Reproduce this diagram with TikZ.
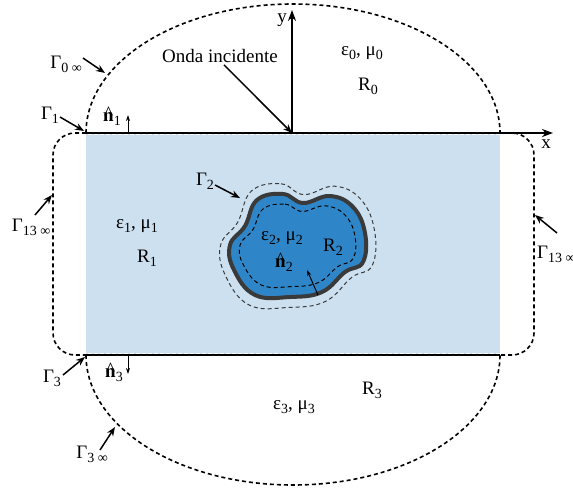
\documentclass[tikz,border=0pt]{standalone}
\usepackage{fontspec}
\setmainfont{Liberation Serif}
\usetikzlibrary{arrows.meta}
\definecolor{slabblue}{HTML}{CCE0EF}
\definecolor{scatblue}{HTML}{2E86C8}
\definecolor{scatedge}{HTML}{3A3A3A}
% outline of the scatterer R2
\newcommand{\scatcurve}{plot[smooth cycle, tension=0.7] coordinates {(257,200) (283,194) (303,203) (330,196) (353,207) (365,233) (363,262) (345,272) (322,292) (290,297) (255,295) (234,270) (230,245) (245,226)}}
% lowered index and unit normal
\newcommand{\lowidx}[1]{\raisebox{-0.45ex}{\fontsize{14}{14}\selectfont #1}}
\newcommand{\unitn}{\ooalign{\textbf{n}\cr\hidewidth\raisebox{0.1em}{\^{}}\hidewidth\cr}}
\tikzset{
  lbl/.style={font=\fontsize{19}{22}\selectfont, inner sep=0pt},
  pointer/.style={-{Stealth[length=9pt,width=7pt]}, line width=1.5pt},
  normal/.style={-{Stealth[length=6pt,width=4pt]}, line width=1pt},
  bound/.style={dash pattern=on 4pt off 3pt, line width=1.6pt},
}

\begin{document}
\begin{tikzpicture}[x=1pt, y=-1pt]
  \useasboundingbox (0,0) rectangle (573,493);

  % slab R1
  \fill[slabblue] (86,133) rectangle (500,355);

  % scatterer R2 with its two contours
  \fill[scatblue] \scatcurve;
  \draw[scatedge, line width=4pt] \scatcurve;
  \begin{scope}[shift={(297,245)}, xscale=1.14, yscale=1.2, shift={(-297,-245)}]
    \draw[dash pattern=on 4pt off 3pt, line width=1pt, scatedge] \scatcurve;
  \end{scope}
  \begin{scope}[shift={(297,245)}, xscale=0.85, yscale=0.8, shift={(-297,-245)}]
    \draw[dash pattern=on 4pt off 3pt, line width=1pt, black] \scatcurve;
  \end{scope}

  % contours at infinity
  \draw[bound] (86,133) arc[start angle=180, end angle=360, x radius=207, y radius=129];
  \draw[bound] (86,355) arc[start angle=180, end angle=0, x radius=207, y radius=130];
  \draw[bound, rounded corners=22pt] (86,133) -- (53,133) -- (53,355) -- (86,355);
  \draw[bound, rounded corners=22pt] (500,133) -- (534,133) -- (534,355) -- (500,355);

  % interfaces and axes
  \coordinate (orig) at (292,133);
  \coordinate (xend) at (553,133);
  \coordinate (yend) at (292,10);
  \draw[line width=2pt] (86,133) -- (500,133);
  \draw[-{Stealth[length=11pt,width=8pt]}, line width=2pt] (orig) -- (xend);
  \draw[-{Stealth[length=11pt,width=8pt]}, line width=2pt] (orig) -- (yend);
  \draw[white, dash pattern=on 4pt off 2pt, line width=0.8pt] (88,134.5) -- (500,134.5);
  \draw[line width=2pt] (86,355) -- (500,355);
  \draw[white, dash pattern=on 4pt off 2pt, line width=0.8pt] (88,353.5) -- (500,353.5);
  \node[lbl] (xlab) at (546,144) {x};
  \node[lbl] (ylab) at (282,20) {y};

  % incident wave
  \node[lbl] (onda) at (220,56) {Onda incidente};
  \draw[pointer] (onda.south) ++(4,2) coordinate (ondafoot) -- (orig);

  % region labels
  \node[lbl] (mat0) at (362,53) {ε\lowidx{0}, μ\lowidx{0}};
  \node[lbl] (reg0) at (368,86) {R\lowidx{0}};
  \node[lbl] (mat1) at (137,226) {ε\lowidx{1}, μ\lowidx{1}};
  \node[lbl] (reg1) at (147,258) {R\lowidx{1}};
  \node[lbl] (mat2) at (282,238) {ε\lowidx{2}, μ\lowidx{2}};
  \node[lbl] (reg2) at (333,247) {R\lowidx{2}};
  \node[lbl] (mat3) at (294,407) {ε\lowidx{3}, μ\lowidx{3}};
  \node[lbl] (reg3) at (372,390) {R\lowidx{3}};

  % normals
  \node[lbl] (nrm1) at (112,119) {\unitn\lowidx{1}};
  \coordinate (n1a) at (128,133);
  \coordinate (n1b) at (128,115);
  \draw[normal] (n1a) -- (n1b);
  \node[lbl] (nrm3) at (114,375) {\unitn\lowidx{3}};
  \coordinate (n3a) at (128,355);
  \coordinate (n3b) at (128,374);
  \draw[normal] (n3a) -- (n3b);
  \node[lbl] (nrm2) at (284,265) {\unitn\lowidx{2}};
  \coordinate (n2a) at (318,295);
  \coordinate (n2b) at (307,270);
  \draw[normal] (n2a) -- (n2b);

  % contour labels
  \node[lbl] (g0inf) at (66,64) {Γ\lowidx{0 ∞}};
  \coordinate (g0pt) at (105,73);
  \draw[pointer] (g0inf.east) ++(1,-6) -- (g0pt);
  \node[lbl] (g1) at (50,115) {Γ\lowidx{1}};
  \coordinate (g1pt) at (84,131);
  \draw[pointer] (60,117) -- (g1pt);
  \node[lbl] (g2) at (205,181) {Γ\lowidx{2}};
  \coordinate (g2pt) at (240,198);
  \draw[pointer] (215,185) -- (g2pt);
  \node[lbl] (g13l) at (31,227) {Γ\lowidx{13 ∞}};
  \coordinate (g13lpt) at (52,195);
  \draw[pointer] (35,215) -- (g13lpt);
  \node[lbl, anchor=west] (g13r) at (537,254) {Γ\lowidx{13 ∞}};
  \coordinate (g13rpt) at (535,215);
  \draw[pointer] (557,233) -- (g13rpt);
  \node[lbl] (g3) at (52,378) {Γ\lowidx{3}};
  \coordinate (g3pt) at (85,357);
  \draw[pointer] (63,375) -- (g3pt);
  \node[lbl] (g3inf) at (92,454) {Γ\lowidx{3 ∞}};
  \coordinate (g3infpt) at (115,427);
  \draw[pointer] (100,450) -- (g3infpt);
\end{tikzpicture}
\end{document}
